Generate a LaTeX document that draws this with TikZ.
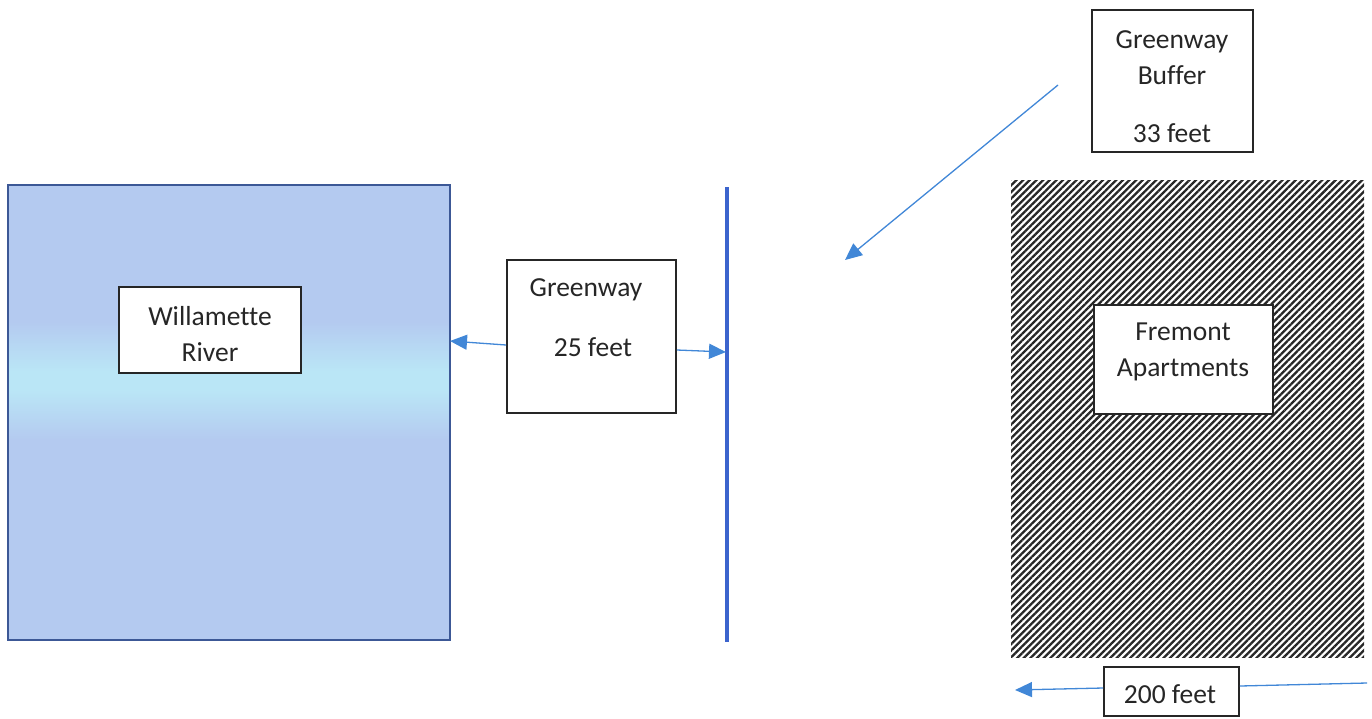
\documentclass[tikz,border=0pt]{standalone}
\usepackage{fontspec}
\setmainfont{Carlito}[Ligatures={NoCommon}]
\usetikzlibrary{patterns.meta,arrows.meta}
\definecolor{rvA}{RGB}{180,202,240}
\definecolor{rvB}{RGB}{186,230,246}
\definecolor{rvEdge}{RGB}{60,88,150}
\definecolor{wall}{RGB}{60,100,205}
\definecolor{arr}{RGB}{65,135,215}
\pgfdeclareverticalshading{river}{100bp}{color(0bp)=(rvA); color(25bp)=(rvA); color(47bp)=(rvA); color(52.5bp)=(rvB); color(54.5bp)=(rvB); color(60bp)=(rvA); color(75bp)=(rvA); color(100bp)=(rvA)}
\tikzset{
  box/.style={draw=black!85, line width=1.7pt, fill=white, inner sep=0pt},
  txt/.style={font=\fontsize{27.5}{36}\selectfont, text=black!85, align=center, inner sep=0pt},
  conn/.style={draw=arr, line width=1.3pt, -{Triangle[length=17pt,width=15pt]}},
  plain/.style={draw=arr, line width=1.3pt}
}
\begin{document}
\begin{tikzpicture}[x=1pt,y=-1pt]
\useasboundingbox (0,0) rectangle (1372,718);
% river
\path[shading=river, draw=rvEdge, line width=2pt] (8,185) rectangle (450,640);
\coordinate (riverE) at (450,341);
% wall line
\draw[wall, line width=3.5pt] (727,187) -- (727,642);
\coordinate (wallW) at (726,352);
% hatched area
\path[pattern={Lines[angle=45,distance=4.7pt,line width=2.3pt]}, pattern color=black!85] (1011,180) rectangle (1364,657);
% boxes
\node[box, minimum width=182pt, minimum height=86pt] (wr) at (210,330) {};
\node[txt] (wrt) at (210,334) {Willamette\\River};
\node[box, minimum width=169pt, minimum height=153pt] (gw) at (591.5,336.5) {};
\node[txt] (gw1) at (586,290) {Greenway};
\node[txt] (gw2) at (593,347) {25 feet};
\node[box, minimum width=161pt, minimum height=142pt] (gb) at (1172.5,81) {};
\node[txt] (gb1) at (1172,58) {Greenway\\Buffer};
\node[txt] (gb2) at (1172,133) {33 feet};
\node[box, minimum width=179pt, minimum height=109pt] (fa) at (1183.5,359.5) {};
\node[txt] (fat) at (1183,352) {Fremont\\Apartments};
\node[box, minimum width=135pt, minimum height=49pt] (ft) at (1171.5,691.5) {};
\node[txt] (ftt) at (1170,694) {200 feet};
% connectors
\coordinate (gbStart) at (1058,85);
\coordinate (gbEnd) at (845,260);
\coordinate (ftRight) at (1367,683);
\coordinate (ftLeft) at (1015,690);
\draw[conn] (gw.west |- 0,345) -- (riverE);
\draw[conn] (gw.east |- 0,350) -- (wallW);
\draw[conn] (gbStart) -- (gbEnd);
\draw[plain] (ftRight) -- (ft.east |- 0,686);
\draw[conn] (ft.west |- 0,688) -- (ftLeft);
\end{tikzpicture}
\end{document}
